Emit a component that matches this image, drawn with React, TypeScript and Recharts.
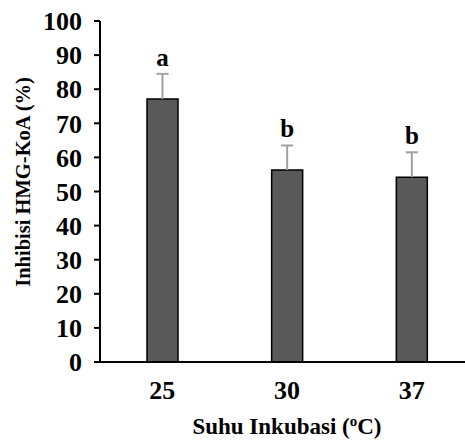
import { BarChart, Bar, XAxis, YAxis, LabelList } from "recharts"

const suhu = ["25", "30", "37"]
const inhibisi = [77.1, 56.3, 54.2]
const sd = [7.4, 7.2, 7.3]
const notasi = ["a", "b", "b"]
const yTicks = [0, 10, 20, 30, 40, 50, 60, 70, 80, 90, 100]

const chartData = suhu.map((s, i) => ({ suhu: s, nilai: inhibisi[i], sd: sd[i], huruf: notasi[i] }))

const font = "'Liberation Serif', 'Times New Roman', serif"

function ErrorAndLetter(props: any) {
  const { x, y, width, height, index } = props
  const row = chartData[index]
  const perUnit = height / row.nilai
  const cx = x + width / 2
  const top = y - row.sd * perUnit
  return (
    <g>
      <line x1={cx} x2={cx} y1={y} y2={top} stroke="#a0a0a0" strokeWidth={2} />
      <line x1={cx - 6} x2={cx + 6} y1={top} y2={top} stroke="#a0a0a0" strokeWidth={2} />
      <text x={cx} y={top - 8} textAnchor="middle" fontFamily={font} fontWeight="bold" fontSize={25} fill="#000">
        {row.huruf}
      </text>
    </g>
  )
}

function XTitle(props: any) {
  const { viewBox } = props
  const cx = viewBox.x + viewBox.width / 2
  return (
    <text x={cx} y={viewBox.y + 72} textAnchor="middle" fontFamily={font} fontWeight="bold" fontSize={23} fill="#000">
      Suhu Inkubasi (<tspan fontSize={15} dy={-8}>o</tspan><tspan dy={8}>C)</tspan>
    </text>
  )
}

function YTitle() {
  return (
    <text x={0} y={0} transform="translate(30,182) rotate(-90)" textAnchor="middle" fontFamily={font} fontWeight="bold" fontSize={20.5} fill="#000">
      Inhibisi HMG-KoA (%)
    </text>
  )
}

export default function App() {
  return (
    <div style={{ position: "absolute", left: 0, top: 0, width: 465, height: 441, overflow: "hidden", background: "#fff" }}>
      <BarChart width={474} height={441} data={chartData} margin={{ top: 21, right: 0, bottom: 19, left: 0 }}>
        <XAxis
          dataKey="suhu"
          height={60}
          stroke="#000"
          strokeWidth={2}
          tickLine={false}
          tickSize={0}
          tickMargin={19}
          tick={{ fill: "#000", fontFamily: font, fontWeight: "bold", fontSize: 26 }}
          label={<XTitle />}
        />
        <YAxis
          width={100}
          domain={[0, 100]}
          ticks={yTicks}
          interval={0}
          stroke="#000"
          strokeWidth={2}
          tickSize={6}
          tickMargin={12}
          tick={{ fill: "#000", fontFamily: font, fontWeight: "bold", fontSize: 26 }}
          label={<YTitle />}
        />
        <Bar dataKey="nilai" fill="#595959" stroke="#000" strokeWidth={1.5} barSize={31} isAnimationActive={false}>
          <LabelList dataKey="nilai" content={<ErrorAndLetter />} />
        </Bar>
      </BarChart>
    </div>
  )
}
